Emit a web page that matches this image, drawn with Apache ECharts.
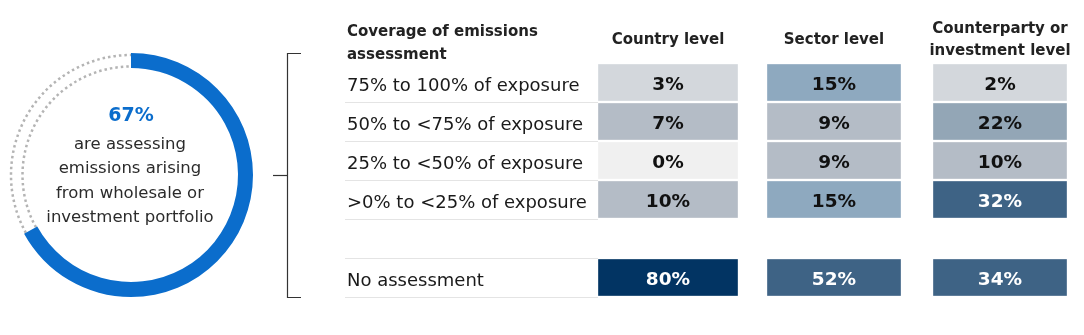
<!DOCTYPE html>
<html>
<head>
<meta charset="utf-8">
<script src="https://cdn.jsdelivr.net/npm/echarts@6/dist/echarts.min.js"></script>
<style>
  html, body { margin: 0; padding: 0; background: #fff; }
  #chart { width: 1084px; height: 335px; }
</style>
</head>
<body>
<div id="chart"></div>
<script>
// Share of respondents assessing portfolio emissions
const assessingShare = 67;
const assessingText = ['are assessing', 'emissions arising', 'from wholesale or', 'investment portfolio'];

// Coverage table
const coverageTitle = ['Coverage of emissions', 'assessment'];
const levels = ['Country level', 'Sector level', 'Counterparty or\ninvestment level'];
const coverageBands = [
  '75% to 100% of exposure',
  '50% to <75% of exposure',
  '25% to <50% of exposure',
  '>0% to <25% of exposure',
  '',
  'No assessment'
];
const countryLevel      = [3, 7, 0, 10, null, 80];
const sectorLevel       = [15, 9, 9, 15, null, 52];
const counterpartyLevel = [2, 22, 10, 32, null, 34];

const FONT = '"DejaVu Sans", sans-serif';

const cells = [];
[countryLevel, sectorLevel, counterpartyLevel].forEach((col, ci) => {
  col.forEach((v, ri) => { if (v !== null) cells.push([ci, ri, v]); });
});

const cellWidths = [140, 134, 134];

const chart = echarts.init(document.getElementById('chart'), null, { renderer: 'canvas' });

// Ring geometry
const cx = 131, cy = 175, rOuter = 122, rInner = 107;
const startA = -Math.PI / 2 + 2 * Math.PI * assessingShare / 100;
const endA = 3 * Math.PI / 2;

chart.setOption({
  animation: false,
  title: {
    text: coverageTitle.join('\n'),
    left: 347,
    top: 21,
    padding: 0,
    textStyle: { fontFamily: FONT, fontSize: 15, fontWeight: 'bold', color: '#222', lineHeight: 23 }
  },
  grid: [
    { left: 345, top: 63, width: 253, height: 234, containLabel: false },
    { left: 585, top: 63, width: 498, height: 234, containLabel: false }
  ],
  xAxis: [
    { gridIndex: 0, type: 'value', show: false },
    {
      gridIndex: 1, type: 'category', data: levels, position: 'top',
      axisLine: { show: false }, axisTick: { show: false }, splitLine: { show: false },
      axisLabel: {
        interval: 0, hideOverlap: false,
        margin: 23, verticalAlign: 'middle', lineHeight: 22,
        fontFamily: FONT, fontSize: 15, fontWeight: 'bold', color: '#222'
      }
    }
  ],
  yAxis: [
    {
      gridIndex: 0, type: 'category', data: coverageBands, inverse: true,
      axisLine: { show: false }, axisTick: { show: false },
      splitLine: { show: true, showMinLine: false, lineStyle: { color: '#e4e4e4', width: 1 } },
      axisLabel: {
        interval: 0,
        inside: true, margin: 2, align: 'left', verticalAlign: 'middle',
        formatter: '{t|{value}}',
        rich: {
          t: { fontFamily: FONT, fontSize: 18, color: '#1a1a1a', padding: [8, 0, 0, 0] }
        }
      }
    },
    {
      gridIndex: 1, type: 'category', data: coverageBands, inverse: true, show: false
    }
  ],
  visualMap: {
    type: 'piecewise', show: false, dimension: 2, seriesIndex: 1,
    pieces: [
      { value: 0, color: '#f0f0f0' },
      { gt: 0, lte: 5, color: '#d3d7dc' },
      { gt: 5, lte: 12, color: '#b4bcc6' },
      { gt: 12, lte: 20, color: '#8ea9bf' },
      { gt: 20, lte: 30, color: '#93a6b6' },
      { gt: 30, lte: 60, color: '#3e6385' },
      { gt: 60, color: '#023463' }
    ]
  },
  series: [
    {
      type: 'pie',
      silent: true,
      center: [cx, cy],
      radius: [rInner, rOuter],
      startAngle: 90,
      clockwise: true,
      label: { show: false },
      labelLine: { show: false },
      data: [
        { value: assessingShare, itemStyle: { color: '#0b6dcc' } },
        { value: 100 - assessingShare, itemStyle: { color: 'rgba(0,0,0,0)' } }
      ]
    },
    {
      type: 'custom',
      xAxisIndex: 1,
      yAxisIndex: 1,
      data: cells,
      encode: { x: 0, y: 1 },
      renderItem: function (params, api) {
        const ci = api.value(0), ri = api.value(1), v = api.value(2);
        const p = api.coord([ci, ri]);
        const band = api.size([1, 1]);
        const w = cellWidths[ci];
        const h = band[1] - 2;
        const dark = v > 30;
        return {
          type: 'group',
          children: [
            {
              type: 'rect',
              shape: { x: p[0] - w / 2, y: p[1] - h / 2, width: w, height: h },
              style: { fill: api.visual('color'), stroke: 'rgba(255,255,255,0.35)', lineWidth: 1 }
            },
            {
              type: 'text',
              x: p[0], y: p[1] + 3,
              style: {
                text: v + '%', align: 'center', verticalAlign: 'middle',
                fontFamily: FONT, fontSize: 18.5, fontWeight: 'bold',
                fill: dark ? '#ffffff' : '#111111'
              }
            }
          ]
        };
      }
    }
  ],
  graphic: [
    // dotted remainder of the ring
    {
      type: 'arc', silent: true,
      shape: { cx: cx, cy: cy, r: rOuter - 2, startAngle: startA, endAngle: endA, clockwise: true },
      style: { fill: null, stroke: '#b4b4b4', lineWidth: 2.5, lineDash: [2.5, 3] }
    },
    {
      type: 'arc', silent: true,
      shape: { cx: cx, cy: cy, r: rInner + 1.5, startAngle: startA, endAngle: endA, clockwise: true },
      style: { fill: null, stroke: '#b4b4b4', lineWidth: 2.5, lineDash: [2.5, 3] }
    },
    // centre text
    {
      type: 'text', x: cx, y: 116,
      style: {
        text: assessingShare + '%', align: 'center', verticalAlign: 'middle',
        fontFamily: FONT, fontSize: 19, fontWeight: 'bold', fill: '#0b6dcc'
      }
    },
    {
      type: 'text', x: cx - 1, y: 181,
      style: {
        text: assessingText.join('\n'), align: 'center', verticalAlign: 'middle',
        fontFamily: FONT, fontSize: 16.5, lineHeight: 24.5, fill: '#2b2b2b'
      }
    },
    // bracket
    {
      type: 'polyline', silent: true,
      shape: { points: [[301, 53.5], [287.5, 53.5], [287.5, 297.5], [301, 297.5]] },
      style: { fill: null, stroke: '#333', lineWidth: 1.2 }
    },
    {
      type: 'line', silent: true,
      shape: { x1: 273, y1: 175.5, x2: 287.5, y2: 175.5 },
      style: { stroke: '#333', lineWidth: 1.2 }
    }
  ]
});
</script>
</body>
</html>
